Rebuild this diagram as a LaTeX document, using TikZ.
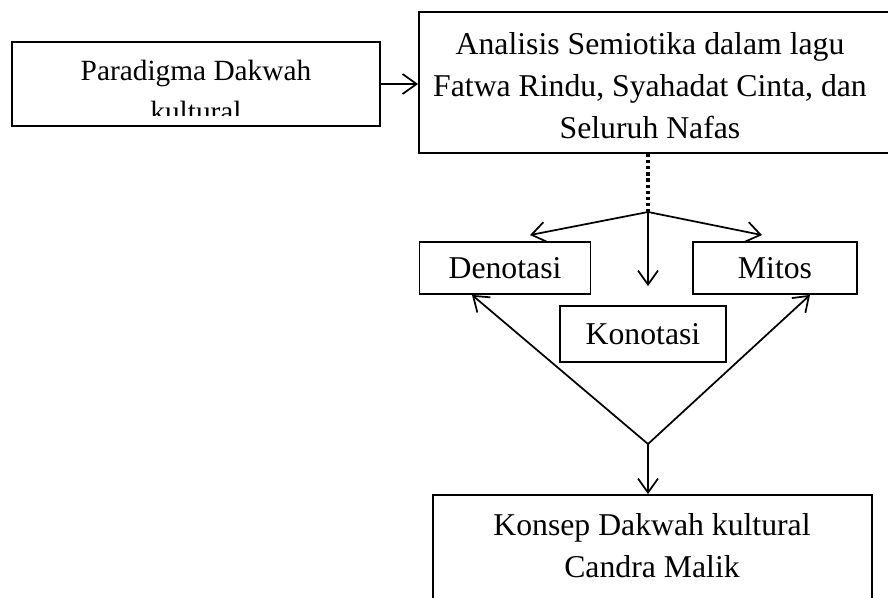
\documentclass[tikz,border=0pt]{standalone}
\usepackage{fontspec}
\setmainfont{Liberation Serif}
\usetikzlibrary{arrows.meta,calc}

\begin{document}
\begin{tikzpicture}[x=0.75pt,y=-0.75pt,
  font=\fontsize{23.8}{31.5}\selectfont,
  box/.style={draw,line width=1.4pt,inner sep=0pt},
  txt/.style={align=center,inner sep=0pt},
  link/.style={line width=1.3pt,-{Straight Barb[length=10.5pt,width=15pt,line width=1.3pt]}},
  plain/.style={line width=1.3pt},
  dotline/.style={line width=2.6pt,dash pattern=on 2.4pt off 2.2pt}]
\useasboundingbox (0,0) rectangle (888,598);
\clip (0,0) rectangle (888,598);

% kotak atas
\node[box,minimum width=276pt,minimum height=63pt] (para) at (196,84) {};
\begin{scope}
\clip (12,42) rectangle (380,116);
\node[txt,font=\fontsize{22}{30.5}\selectfont] (paratxt) at (196,91) {Paradigma Dakwah\\kultural};
\end{scope}
\node[box,minimum width=360.75pt,minimum height=105.75pt] (anal) at (659.5,82.5) {};
\node[txt] (analtxt) at (650,86) {Analisis Semiotika dalam lagu\\Fatwa Rindu, Syahadat Cinta, dan\\Seluruh Nafas};

% tiga makna
\node[box,minimum width=128.25pt,minimum height=39pt] (deno) at (505,268) {Denotasi};
\node[box,minimum width=123pt,minimum height=39pt] (mitos) at (775,268) {Mitos};
\node[box,minimum width=124.5pt,minimum height=42pt] (kono) at (643,334) {Konotasi};

% kotak bawah
\node[box,minimum width=329.25pt,minimum height=120pt] (konsep) at (652.5,575) {};
\node[txt] (konseptxt) at (652,546) {Konsep Dakwah kultural\\Candra Malik};

\coordinate (split) at (648,212);
\coordinate (merge) at (648,444);

\draw[link] (para.east) -- (para.east -| anal.west);
\draw[dotline] (split |- anal.south) -- (split);
\draw[link] (split) -- ($(deno.north)+(25,-6)$);
\draw[link] (split) -- ($(mitos.north)+(-13,-6)$);
\draw[link] (split) -- ($(kono.north)+(5,-19)$);
\draw[link] (merge) -- ($(deno.south)+(-33,0)$);
\draw[link] (merge) -- ($(mitos.south)+(35,0)$);
\draw[link] (merge) -- (merge |- konsep.north);
\end{tikzpicture}
\end{document}
